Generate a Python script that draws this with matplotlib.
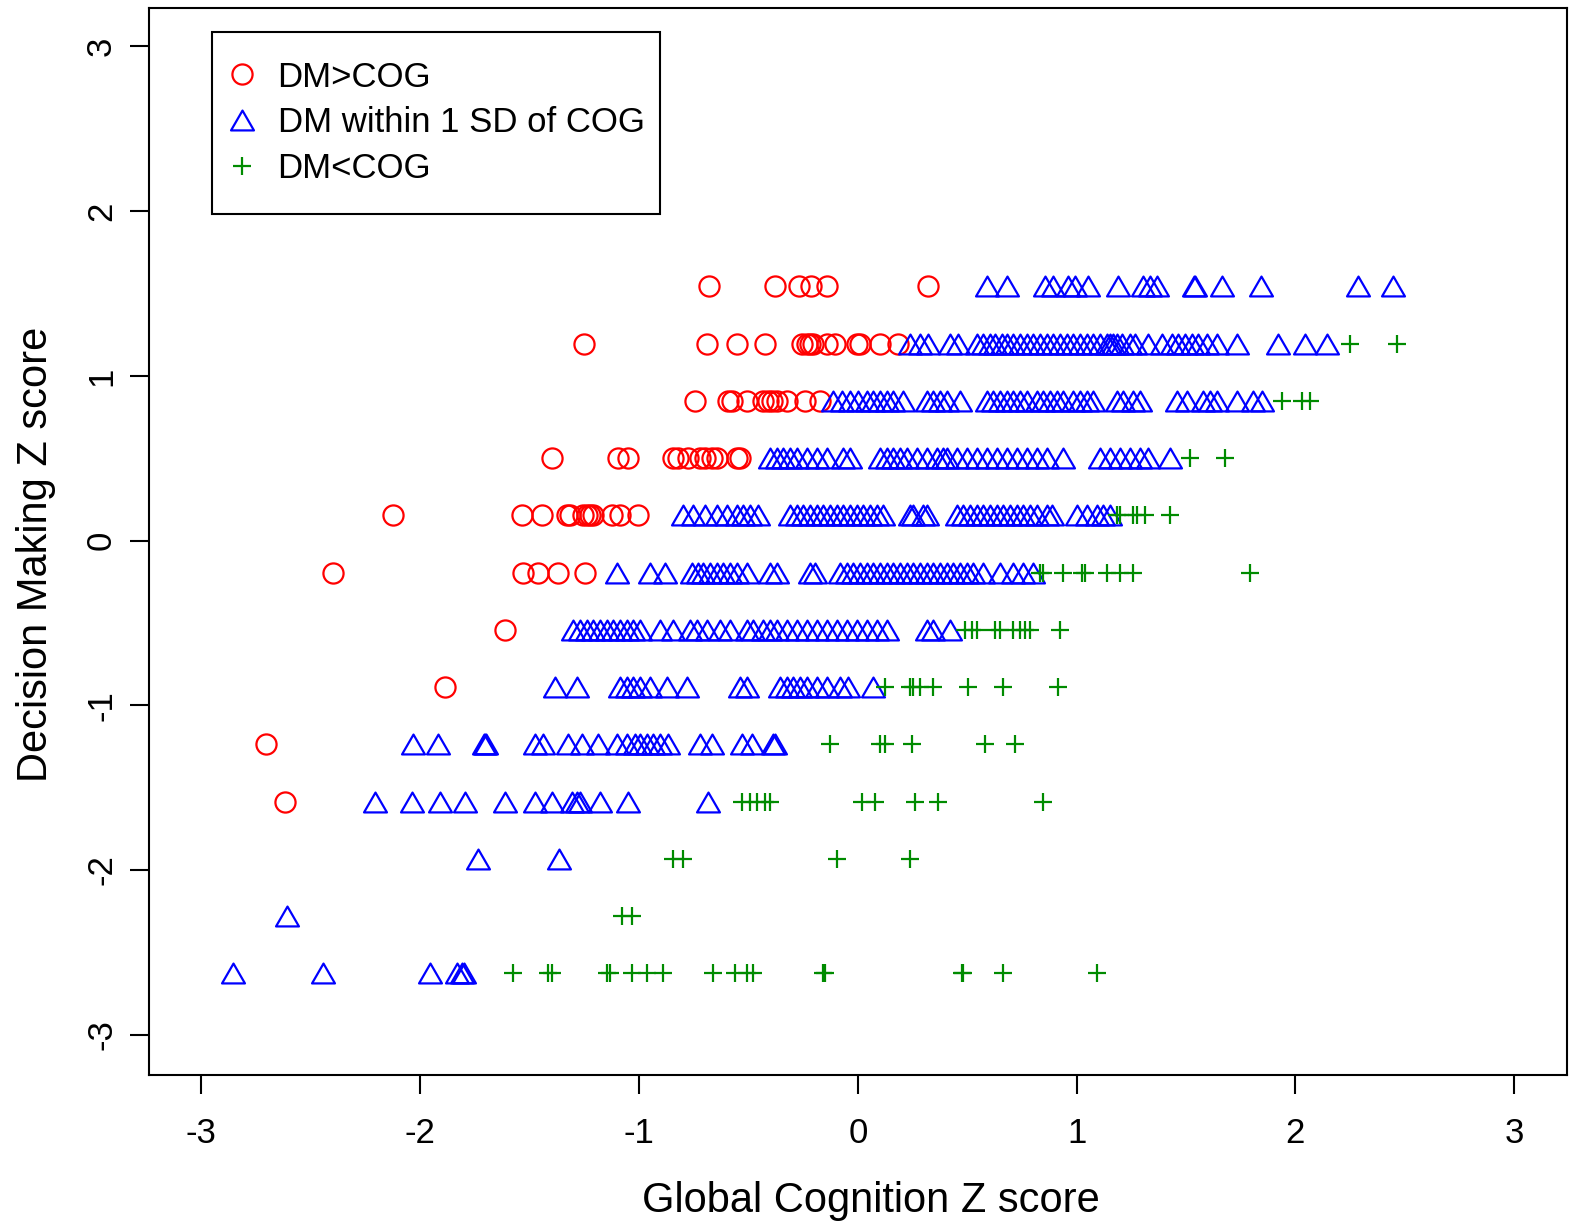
import numpy as np
import matplotlib.pyplot as plt
from matplotlib.path import Path

plt.rcParams['font.family'] = ['Liberation Sans', 'DejaVu Sans']
plt.rcParams['axes.unicode_minus'] = False

# Decision Making Z score levels (rows of the scatter)
dm_levels = [1.543, 1.195, 0.848, 0.500, 0.152, -0.195, -0.543,
             -0.890, -1.238, -1.585, -1.933, -2.280, -2.628]

# Global Cognition Z score, one list per row, by group
dm_gt_cog = [
    [-0.682, -0.380, -0.267, -0.213, -0.142, 0.321],
    [-1.253, -0.691, -0.553, -0.424, -0.256, -0.234, -0.218, -0.203, -0.142,
     -0.104, -0.005, 0.010, 0.101, 0.185],
    [-0.744, -0.592, -0.576, -0.508, -0.432, -0.409, -0.394, -0.371, -0.325,
     -0.241, -0.173],
    [-1.399, -1.095, -1.049, -0.843, -0.820, -0.775, -0.721, -0.698, -0.668,
     -0.645, -0.553, -0.538],
    [-2.123, -1.536, -1.445, -1.330, -1.315, -1.255, -1.239, -1.224, -1.209,
     -1.125, -1.087, -1.003],
    [-2.397, -1.529, -1.460, -1.369, -1.247],
    [-1.612],
    [-1.886],
    [-2.705],
    [-2.618],
    [],
    [],
    [],
]

dm_within = [
    [0.589, 0.681, 0.856, 0.894, 0.961, 0.993, 1.053, 1.191, 1.305, 1.336,
     1.366, 1.537, 1.540, 1.663, 1.843, 2.287, 2.447],
    [0.239, 0.284, 0.322, 0.422, 0.459, 0.543, 0.574, 0.604, 0.627, 0.658,
     0.681, 0.711, 0.741, 0.772, 0.802, 0.833, 0.863, 0.894, 0.924, 0.955,
     0.985, 1.015, 1.046, 1.076, 1.106, 1.137, 1.153, 1.168, 1.185, 1.208,
     1.245, 1.267, 1.326, 1.390, 1.436, 1.463, 1.495, 1.527, 1.554, 1.595,
     1.641, 1.732, 1.920, 2.043, 2.144],
    [-0.113, -0.074, -0.036, 0.002, 0.041, 0.071, 0.101, 0.132, 0.162, 0.208,
     0.315, 0.345, 0.376, 0.406, 0.467, 0.589, 0.619, 0.650, 0.681, 0.711,
     0.741, 0.772, 0.818, 0.848, 0.878, 0.909, 0.939, 0.985, 1.015, 1.046,
     1.076, 1.183, 1.213, 1.259, 1.290, 1.457, 1.503, 1.579, 1.610, 1.640,
     1.732, 1.808, 1.846],
    [-0.401, -0.371, -0.340, -0.310, -0.279, -0.234, -0.188, -0.142, -0.066,
     -0.036, 0.101, 0.132, 0.162, 0.193, 0.223, 0.269, 0.315, 0.361, 0.391,
     0.406, 0.452, 0.498, 0.543, 0.589, 0.635, 0.681, 0.726, 0.772, 0.818,
     0.863, 0.939, 1.107, 1.153, 1.198, 1.244, 1.290, 1.328, 1.427],
    [-0.798, -0.752, -0.698, -0.645, -0.599, -0.553, -0.523, -0.493, -0.455,
     -0.310, -0.279, -0.249, -0.218, -0.188, -0.158, -0.127, -0.096, -0.066,
     -0.036, -0.005, 0.025, 0.056, 0.086, 0.117, 0.239, 0.254, 0.299, 0.315,
     0.452, 0.482, 0.513, 0.543, 0.574, 0.604, 0.635, 0.665, 0.696, 0.726,
     0.756, 0.787, 0.818, 0.863, 0.886, 1.000, 1.046, 1.092, 1.122, 1.153],
    [-1.102, -0.950, -0.881, -0.759, -0.729, -0.706, -0.675, -0.645, -0.615,
     -0.584, -0.553, -0.508, -0.401, -0.371, -0.218, -0.196, -0.081, -0.051,
     -0.021, 0.010, 0.041, 0.071, 0.101, 0.132, 0.162, 0.193, 0.223, 0.254,
     0.284, 0.315, 0.345, 0.376, 0.406, 0.436, 0.467, 0.498, 0.528, 0.574,
     0.650, 0.711, 0.756, 0.802],
    [-1.300, -1.270, -1.239, -1.209, -1.178, -1.148, -1.117, -1.087, -1.056,
     -1.026, -0.996, -0.904, -0.843, -0.767, -0.736, -0.691, -0.630, -0.584,
     -0.508, -0.478, -0.432, -0.401, -0.371, -0.325, -0.279, -0.234, -0.188,
     -0.142, -0.096, -0.051, -0.005, 0.041, 0.086, 0.132, 0.315, 0.345, 0.421],
    [-1.384, -1.285, -1.087, -1.056, -1.026, -0.996, -0.950, -0.873, -0.782,
     -0.538, -0.508, -0.356, -0.325, -0.295, -0.264, -0.234, -0.188, -0.142,
     -0.081, -0.043, 0.071],
    [-2.032, -1.917, -1.710, -1.704, -1.698, -1.475, -1.437, -1.323, -1.262,
     -1.186, -1.102, -1.056, -1.018, -0.996, -0.965, -0.935, -0.904, -0.866,
     -0.721, -0.668, -0.531, -0.485, -0.386, -0.380],
    [-2.207, -2.039, -1.910, -1.795, -1.612, -1.475, -1.399, -1.308, -1.285,
     -1.270, -1.178, -1.049, -0.683],
    [-1.734, -1.364],
    [-2.607],
    [-2.854, -2.443, -1.955, -1.833, -1.810, -1.800],
]

dm_lt_cog = [
    [],
    [2.250, 2.463],
    [1.937, 2.029, 2.067],
    [1.518, 1.678],
    [1.183, 1.198, 1.259, 1.275, 1.313, 1.427],
    [0.833, 0.848, 0.939, 1.023, 1.039, 1.137, 1.198, 1.259, 1.793],
    [0.490, 0.521, 0.543, 0.627, 0.650, 0.711, 0.741, 0.764, 0.787, 0.924],
    [0.124, 0.239, 0.254, 0.284, 0.345, 0.505, 0.665, 0.916],
    [-0.127, 0.101, 0.124, 0.246, 0.581, 0.718],
    [-0.531, -0.493, -0.462, -0.424, -0.401, 0.018, 0.079, 0.261, 0.368, 0.848],
    [-0.843, -0.798, -0.096, 0.239],
    [-1.079, -1.034],
    [-1.575, -1.415, -1.399, -1.148, -1.133, -1.034, -0.965, -0.889, -0.660,
     -0.561, -0.508, -0.478, -0.158, -0.150, 0.475, 0.480, 0.665, 1.092],
]

labels = ['DM>COG', 'DM within 1 SD of COG', 'DM<COG']
ticks = [-3, -2, -1, 0, 1, 2, 3]


def flatten(rows):
    xs, ys = [], []
    for level, row in zip(dm_levels, rows):
        xs += row
        ys += [level] * len(row)
    return np.array(xs), np.array(ys)


# triangle like R's pch 2 (equilateral, centred on its box)
tri = Path([(0, 0.866), (-1, -0.866), (1, -0.866), (0, 0.866)],
           [Path.MOVETO, Path.LINETO, Path.LINETO, Path.CLOSEPOLY])

fig = plt.figure(figsize=(15.75, 12.25), dpi=100)
ax = fig.add_axes([0.0944, 0.1224, 0.9005, 0.8710])

x1, y1 = flatten(dm_gt_cog)
x2, y2 = flatten(dm_within)
x3, y3 = flatten(dm_lt_cog)

ax.plot(x1, y1, linestyle='none', marker='o', ms=14.5, mfc='none',
        mec='#FF0000', mew=1.6, label=labels[0])
ax.plot(x2, y2, linestyle='none', marker=tri, ms=16.5, mfc='none',
        mec='#0000FF', mew=1.6, label=labels[1])
ax.plot(x3, y3, linestyle='none', marker='+', ms=13, mec='#008B00',
        mew=1.6, label=labels[2])

ax.set_xlim(-3.241, 3.241)
ax.set_ylim(-3.246, 3.233)
ax.set_xticks(ticks)
ax.set_yticks(ticks)
ax.set_xticklabels([str(t) for t in ticks])
ax.set_yticklabels([str(t) for t in ticks])
ax.tick_params(axis='both', direction='out', length=14, width=1.5,
               labelsize=25)
ax.tick_params(axis='x', pad=16)
ax.tick_params(axis='y', pad=8, labelrotation=90)
for lab in ax.get_yticklabels():
    lab.set_verticalalignment('center')

for s in ax.spines.values():
    s.set_linewidth(1.5)

ax.set_xlabel('Global Cognition Z score', fontsize=30)
ax.set_ylabel('Decision Making Z score', fontsize=30)
ax.xaxis.set_label_coords(0.509, -0.118)
ax.xaxis.label.set_verticalalignment('center')
ax.yaxis.set_label_coords(-0.0793, 0.488)
ax.yaxis.label.set_verticalalignment('center')

leg = ax.legend(loc='upper left', bbox_to_anchor=(0.0446, 0.806, 0.316, 0.1715),
                mode='expand', borderaxespad=0, fontsize=25, numpoints=1,
                handlelength=0.1, handletextpad=0.97, borderpad=0.82,
                labelspacing=0.37, fancybox=False, framealpha=1,
                edgecolor='black')
leg.get_frame().set_linewidth(1.5)

fig.savefig('out.png', dpi=100)
